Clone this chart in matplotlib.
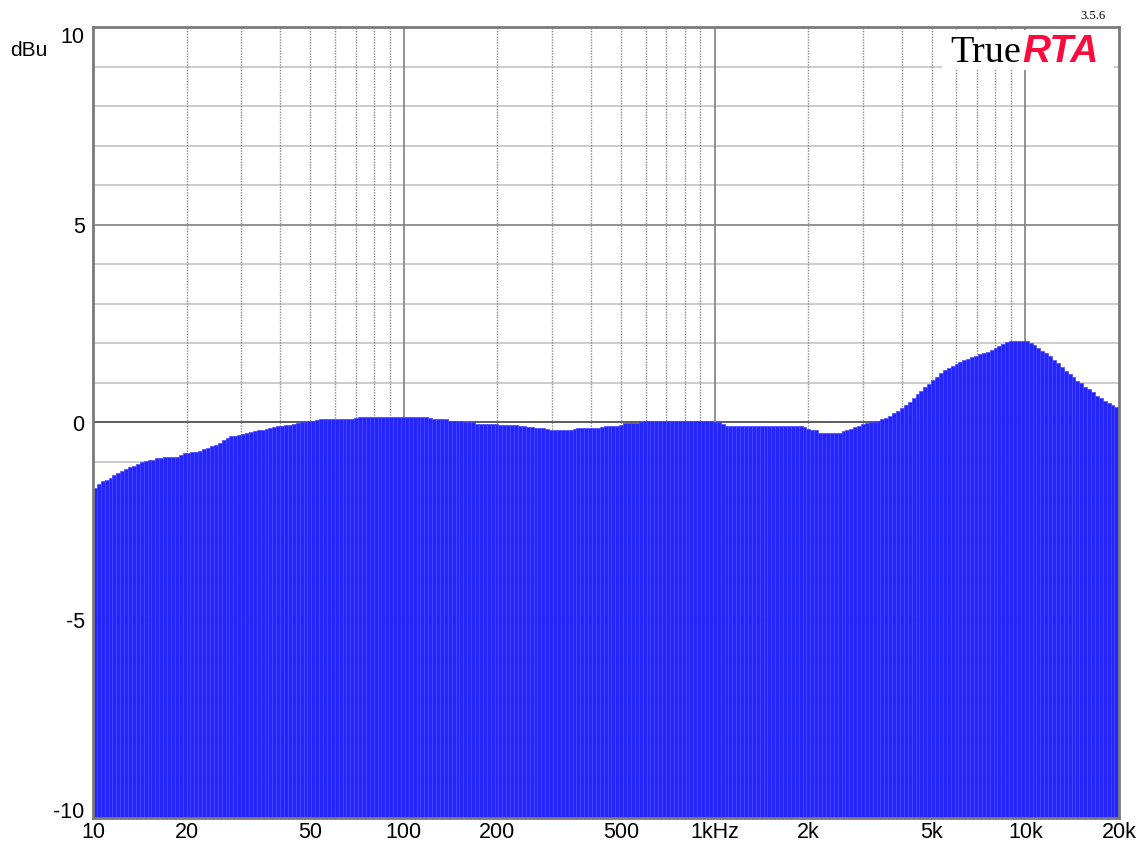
import numpy as np
import matplotlib
matplotlib.use("Agg")
import matplotlib.pyplot as plt
from matplotlib.patches import Rectangle

# 1/24-octave band levels (dBu), starting at 10 Hz
levels = [
    -1.65, -1.56, -1.49, -1.45, -1.40, -1.34, -1.28, -1.22, -1.17, -1.13,
    -1.09, -1.05, -1.01, -0.98, -0.96, -0.94, -0.91, -0.89, -0.88, -0.88,
    -0.88, -0.86, -0.82, -0.78, -0.76, -0.75, -0.74, -0.72, -0.68, -0.64,
    -0.60, -0.56, -0.52, -0.45, -0.38, -0.35, -0.33, -0.31, -0.29, -0.27,
    -0.24, -0.22, -0.20, -0.18, -0.16, -0.14, -0.12, -0.10, -0.09, -0.07,
    -0.06, -0.04, -0.02, 0.00, 0.02, 0.03, 0.05, 0.07, 0.09, 0.09,
    0.09, 0.09, 0.09, 0.09, 0.10, 0.10, 0.10, 0.12, 0.14, 0.14,
    0.14, 0.15, 0.15, 0.15, 0.15, 0.15, 0.15, 0.15, 0.15, 0.15,
    0.14, 0.14, 0.14, 0.14, 0.14, 0.13, 0.12, 0.09, 0.09, 0.09,
    0.08, 0.05, 0.05, 0.05, 0.04, 0.01, 0.01, 0.01, -0.03, -0.04,
    -0.04, -0.04, -0.05, -0.05, -0.06, -0.07, -0.07, -0.07, -0.07, -0.08,
    -0.10, -0.11, -0.11, -0.13, -0.15, -0.15, -0.17, -0.20, -0.20, -0.20,
    -0.20, -0.20, -0.19, -0.17, -0.15, -0.15, -0.15, -0.15, -0.15, -0.14,
    -0.11, -0.10, -0.10, -0.10, -0.09, -0.07, -0.02, -0.01, -0.01, -0.01,
    0.00, 0.03, 0.03, 0.03, 0.03, 0.04, 0.05, 0.05, 0.05, 0.05,
    0.05, 0.05, 0.05, 0.05, 0.05, 0.05, 0.05, 0.05, 0.04, 0.02,
    0.00, -0.05, -0.08, -0.09, -0.09, -0.09, -0.09, -0.09, -0.09, -0.09,
    -0.09, -0.09, -0.09, -0.09, -0.09, -0.09, -0.09, -0.09, -0.09, -0.09,
    -0.09, -0.09, -0.11, -0.16, -0.18, -0.20, -0.26, -0.27, -0.27, -0.27,
    -0.27, -0.26, -0.22, -0.19, -0.16, -0.12, -0.08, -0.04, -0.01, 0.00,
    0.02, 0.05, 0.08, 0.12, 0.17, 0.23, 0.29, 0.36, 0.43, 0.53,
    0.62, 0.71, 0.80, 0.89, 0.98, 1.07, 1.16, 1.25, 1.32, 1.38,
    1.43, 1.48, 1.52, 1.57, 1.61, 1.65, 1.68, 1.72, 1.75, 1.79,
    1.83, 1.88, 1.94, 1.99, 2.03, 2.06, 2.07, 2.07, 2.07, 2.05,
    2.01, 1.95, 1.89, 1.82, 1.76, 1.68, 1.59, 1.50, 1.40, 1.30,
    1.22, 1.14, 1.06, 0.99, 0.91, 0.84, 0.76, 0.68, 0.62, 0.55,
    0.49, 0.43, 0.39, 0.35,
]

x_ticks = [10, 20, 50, 100, 200, 500, 1000, 2000, 5000, 10000, 20000]
x_tick_labels = ["10", "20", "50", "100", "200", "500", "1kHz", "2k", "5k", "10k", "20k"]
y_ticks = [-10, -5, 0, 5, 10]
y_tick_labels = ["-10", "-5", "0", "5", "10"]

f_start = 10.0
band_step = 2 ** (1 / 24)
freqs = f_start * band_step ** np.arange(len(levels))
widths = freqs * (band_step - 1)
y_floor = -10

plt.rcParams['font.family'] = ['Liberation Sans', 'DejaVu Sans']

fig = plt.figure(figsize=(11.46, 8.55), dpi=100)
ax = fig.add_axes([93 / 1146, 1 - 818 / 855, (1119 - 93) / 1146, (818 - 27) / 855])
ax.set_xscale('log')
ax.set_xlim(10, 20000)
ax.set_ylim(-10, 10)

# horizontal grid
for v in range(-10, 11):
    if v == 0:
        c, lw = '#404040', 1.2
    elif v % 5 == 0:
        c, lw = '#808080', 1.2
    else:
        c, lw = '#c4c4c4', 1.2
    ax.axhline(v, color=c, lw=lw, zorder=1)

# vertical grid
for dec in [10, 100, 1000, 10000]:
    for m in range(1, 10):
        f = dec * m
        if f <= 10 or f >= 20000:
            continue
        if m == 1:
            ax.axvline(f, color='#808080', lw=1.2, zorder=1)
        else:
            ax.axvline(f, color='#8a8a8a', lw=1.0, ls=(0, (1, 1)), zorder=1)

ax.bar(freqs, np.array(levels) - y_floor, width=widths, bottom=y_floor, align='edge',
       color='#2424ff', edgecolor='#4646ff', linewidth=0.5, zorder=2)

ax.set_xticks(x_ticks)
ax.set_xticklabels(x_tick_labels, fontsize=15.5)
ax.set_xticks([], minor=True)
ax.set_yticks(y_ticks)
ax.set_yticklabels(y_tick_labels, fontsize=15.5)
ax.tick_params(length=0)
ax.tick_params(axis='y', pad=6)
ax.tick_params(axis='x', pad=3)
ylabs = ax.get_yticklabels()
ylabs[-1].set_va('top')
ylabs[0].set_va('baseline')
for s in ax.spines.values():
    s.set_color('#7a7a7a')
    s.set_linewidth(2)
    s.set_zorder(5)

fig.text(10 / 1146, 1 - 51 / 855, "dBu", fontsize=15, va='center', ha='left')

# logo
fig.patches.append(Rectangle((942 / 1146, 1 - 70 / 855), 172 / 1146, 40 / 855,
                             transform=fig.transFigure, facecolor='white',
                             edgecolor='none', zorder=3))
fig.text(1021 / 1146, 1 - 62 / 855, "True", fontsize=27.5, family=['Liberation Serif', 'DejaVu Serif'],
         ha='right', va='baseline', color='black', zorder=4)
fig.text(1022 / 1146, 1 - 62 / 855, "RTA", fontsize=28, fontweight='bold', fontstyle='italic',
         ha='left', va='baseline', color='#ff0a3c', zorder=4)
fig.text(1093 / 1146, 1 - 16 / 855, "3.5.6", fontsize=9, family=['Liberation Serif', 'DejaVu Serif'],
         ha='center', va='center', color='black')

fig.savefig("out.png", dpi=100, facecolor='white')
